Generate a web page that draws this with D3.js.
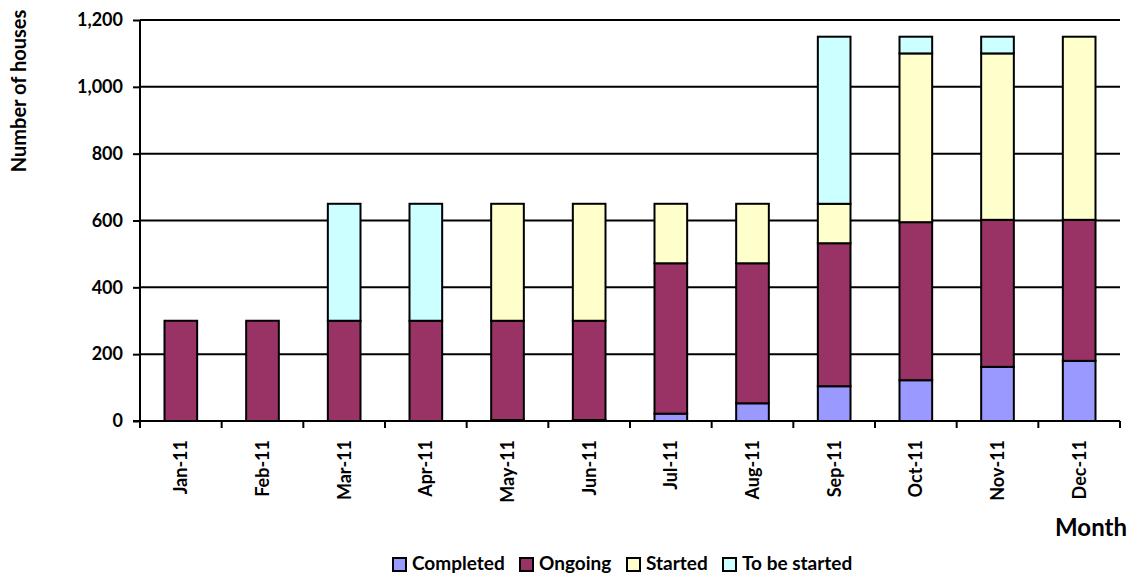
<!DOCTYPE html>
<html><head><meta charset="utf-8">
<script src="https://cdn.jsdelivr.net/npm/d3@7"></script>
<style>body{margin:0;background:#fff}svg{display:block}text{font-family:Lato,"Open Sans",sans-serif;font-weight:bold;fill:#000}</style>
</head><body><svg id="c" width="1132" height="577"></svg>
<script>
const months = ["Jan-11","Feb-11","Mar-11","Apr-11","May-11","Jun-11","Jul-11","Aug-11","Sep-11","Oct-11","Nov-11","Dec-11"];
const completed = [0,0,0,0,3,3,22,53,104,122,162,180];
const ongoing = [300,300,300,300,297,297,450,419,428,473,440,422];
const started = [0,0,0,0,350,350,178,178,118,505,498,548];
const toBeStarted = [0,0,350,350,0,0,0,0,500,50,50,0];
const seriesNames = ["Completed","Ongoing","Started","To be started"];
const colors = ["#9999FF","#993366","#FFFFCC","#CCFFFF"];
const yTicks = [0,200,400,600,800,1000,1200];

const rows = months.map((m,i)=>({month:m,"Completed":completed[i],"Ongoing":ongoing[i],"Started":started[i],"To be started":toBeStarted[i]}));
const stack = d3.stack().keys(seriesNames)(rows);

const svg = d3.select("#c");
const L=140,R=1120,T=20,B=421;
const x = d3.scaleBand().domain(months).range([L,R]).paddingInner(0.6).paddingOuter(0.3);
const y = d3.scaleLinear().domain([0,1200]).range([B,T]);

// gridlines
svg.append("g").selectAll("line").data(yTicks.filter(d=>d>0)).join("line")
  .attr("x1",L).attr("x2",R).attr("y1",d=>y(d)).attr("y2",d=>y(d))
  .attr("stroke","#000").attr("stroke-width",2);

// bars
svg.append("g").selectAll("g").data(stack).join("g")
  .attr("fill",(d,i)=>colors[i])
  .selectAll("rect").data(d=>d.filter(s=>s[1]-s[0]>0)).join("rect")
  .attr("x",d=>x(d.data.month)).attr("width",x.bandwidth())
  .attr("y",d=>y(d[1])).attr("height",d=>y(d[0])-y(d[1]))
  .attr("stroke","#000").attr("stroke-width",2);

// y axis
const ya = svg.append("g").attr("transform",`translate(${L},0)`)
  .call(d3.axisLeft(y).tickValues(yTicks).tickFormat(d3.format(",")).tickSize(7).tickPadding(10));
ya.select(".domain").attr("d",`M0,${B}V${T}`).attr("stroke","#000").attr("stroke-width",2);
ya.selectAll(".tick line").attr("stroke","#000").attr("stroke-width",2);
ya.selectAll(".tick text").style("font-size","18px").style("font-family","Lato,sans-serif").style("font-weight","bold");

// x axis
const xa = svg.append("g").attr("transform",`translate(0,${B})`)
  .call(d3.axisBottom(x).tickSize(0).tickPadding(0));
xa.select(".domain").attr("d",`M${L-7},0H${R}`).attr("stroke","#000").attr("stroke-width",2);
xa.selectAll(".tick text").attr("transform","rotate(-90)").attr("text-anchor","end")
  .attr("x",-19).attr("y",0).attr("dy","0.36em")
  .style("font-size","18px").style("font-family","Lato,sans-serif").style("font-weight","bold");
xa.append("g").selectAll("line").data(d3.range(months.length+1)).join("line")
  .attr("x1",i=>L+i*(R-L)/months.length).attr("x2",i=>L+i*(R-L)/months.length)
  .attr("y1",0).attr("y2",7).attr("stroke","#000").attr("stroke-width",2);

// axis titles
svg.append("text").attr("transform","translate(26,91) rotate(-90)").attr("text-anchor","middle")
  .style("font-size","20px").text("Number of houses");
svg.append("text").attr("x",1127).attr("y",536).attr("text-anchor","end")
  .style("font-size","24px").text("Month");

// legend
const lgX = [392,519,626,722];
const lg = svg.append("g");
seriesNames.forEach((n,i)=>{
  const g = lg.append("g").attr("transform",`translate(${lgX[i]},0)`);
  g.append("rect").attr("x",1).attr("y",558).attr("width",13).attr("height",13).attr("fill",colors[i]).attr("stroke","#000").attr("stroke-width",2);
  g.append("text").attr("x",20).attr("y",570).style("font-size","19px").text(n);
});
</script></body></html>
